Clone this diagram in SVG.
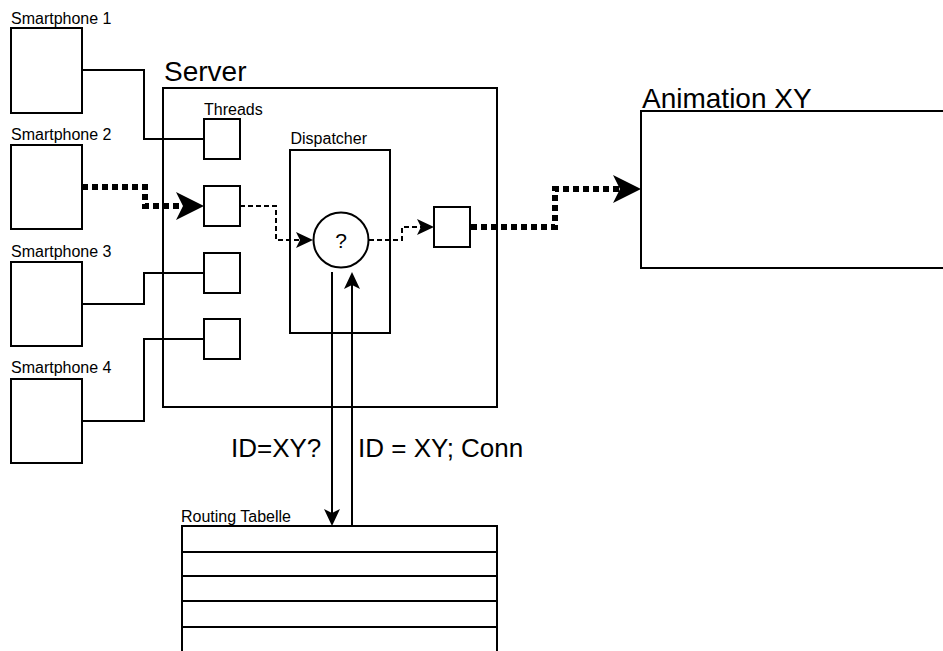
<svg xmlns="http://www.w3.org/2000/svg" width="943" height="651" viewBox="0 0 943 651">
<style>
.box{fill:#fff;stroke:#000;stroke-width:2}
.t{font-family:"Liberation Sans",Arial,sans-serif;fill:#000}
.s16{font-size:16px}
.s28{font-size:28px}
.s26{font-size:26px}
.c{fill:none;stroke:#000;stroke-width:2}
.thick{fill:none;stroke:#000;stroke-width:6;stroke-dasharray:6 4}
.thin{fill:none;stroke:#000;stroke-width:2;stroke-dasharray:5 3}
</style>
<defs>
<marker id="big" markerUnits="userSpaceOnUse" markerWidth="28" markerHeight="28" refX="7" refY="14" orient="auto" overflow="visible">
<path d="M0,0 L28,14 L0,28 L7,14 Z" fill="#000"/>
</marker>
<marker id="small" markerUnits="userSpaceOnUse" markerWidth="17" markerHeight="16" refX="4" refY="8" orient="auto" overflow="visible">
<path d="M0,0 L17,8 L0,16 L4,8 Z" fill="#000"/>
</marker>
</defs>
<rect width="943" height="651" fill="#fff"/>

<g id="server">
<rect class="box" x="163" y="88" width="334" height="319"/>
<text class="t s28" x="164" y="81">Server</text>
</g>
<g id="dispatcher">
<rect class="box" x="290" y="150" width="100" height="183"/>
<text class="t s16" x="290.5" y="144">Dispatcher</text>
</g>
<g id="threads">
<text class="t s16" x="204" y="115">Threads</text>
</g>
<g id="thread1"><rect class="box" x="204" y="119" width="36" height="40"/></g>
<g id="thread2"><rect class="box" x="204" y="186" width="36" height="40"/></g>
<g id="thread3"><rect class="box" x="204" y="253" width="36" height="40"/></g>
<g id="thread4"><rect class="box" x="204" y="319" width="36" height="40"/></g>
<g id="outthread"><rect class="box" x="434" y="207" width="36" height="40"/></g>
<g id="decision">
<circle class="box" cx="341" cy="240" r="27.5"/>
<text class="t" x="341" y="248" font-size="21" text-anchor="middle">?</text>
</g>

<g id="phone1"><rect class="box" x="11" y="28" width="71" height="85"/><text class="t s16" x="11" y="24">Smartphone 1</text></g>
<g id="phone2"><rect class="box" x="11" y="145" width="71" height="84"/><text class="t s16" x="11" y="140">Smartphone 2</text></g>
<g id="phone3"><rect class="box" x="11" y="262" width="71" height="84"/><text class="t s16" x="11" y="257">Smartphone 3</text></g>
<g id="phone4"><rect class="box" x="11" y="379" width="71" height="84"/><text class="t s16" x="11" y="373">Smartphone 4</text></g>

<g id="animation">
<rect class="box" x="641" y="111" width="320" height="157"/>
<text class="t s28" x="642" y="108">Animation XY</text>
</g>

<g id="routing">
<rect class="box" x="182" y="526" width="315" height="140"/>
<path class="c" d="M182,552 H497 M182,576 H497 M182,601 H497 M182,627 H497"/>
<text class="t s16" x="181" y="522">Routing Tabelle</text>
</g>

<g id="connectors">
<path class="c" d="M82,70 H144 V139 H204"/>
<path class="c" d="M82,304 H144 V273 H204"/>
<path class="c" d="M82,421 H144 V339 H204"/>
<path class="thick" d="M82,187 H145 V206 H183" marker-end="url(#big)"/>
<path class="thick" d="M471,227 H555 V189 H620" marker-end="url(#big)"/>
<path class="thin" d="M240,206 H276 V240 H300" marker-end="url(#small)"/>
<path class="thin" d="M369,240 H402 V227 H421" marker-end="url(#small)"/>
<path class="c" d="M332,272 V513" marker-end="url(#small)"/>
<path class="c" d="M352,526 V285" marker-end="url(#small)"/>
<text class="t s26" x="231" y="457">ID=XY?</text>
<text class="t s26" x="358" y="457">ID = XY; Conn</text>
</g>
</svg>
